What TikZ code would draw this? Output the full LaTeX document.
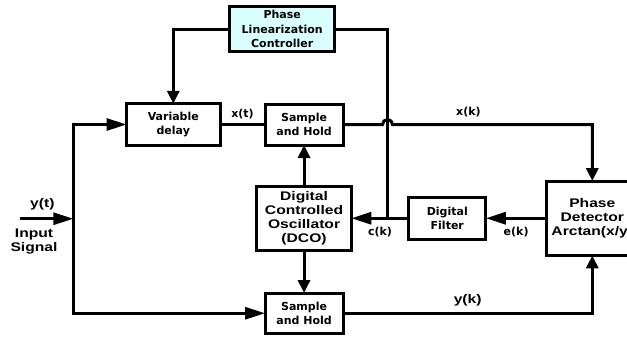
\documentclass[tikz,border=0pt]{standalone}
\usepackage{fontspec}
\newfontfamily\vfont{DejaVu Sans}
\newfontfamily\afont[FakeStretch=1.25]{Liberation Sans}
\usetikzlibrary{positioning, calc, arrows.meta}
\definecolor{ctrlcyan}{RGB}{218,255,255}
\tikzstyle{Block} = [draw, line width=3pt, align=center, inner sep=0pt, outer sep=0pt]
\tikzstyle{Line} = [line width=3pt]
\tikzstyle{Arrow} = [Line, -{Triangle[length=20pt,width=12pt]}]
\tikzstyle{VArrow} = [Line, -{Triangle[length=13pt,width=12pt]}]
\tikzstyle{VText} = [font=\vfont\bfseries\fontsize{11}{14.5}\selectfont]
\tikzstyle{AText} = [font=\afont\bfseries\fontsize{12.5}{14.3}\selectfont]

\begin{document}
\begin{tikzpicture}
    \useasboundingbox (0,0) rectangle (627pt,-338pt);

    \node [Block, VText, minimum width=93.5pt, minimum height=41.5pt] (delay) at (173.3pt,-124.5pt) {Variable\\delay};
    \node [Block, VText, minimum width=78pt, minimum height=41pt, right=45pt of delay] (sh1) {Sample\\and Hold};
    \node [Block, VText, fill=ctrlcyan, minimum width=104.5pt, minimum height=44.8pt] (plc) at (282.2pt,-29pt) {Phase\\Linearization\\Controller};
    \node [Block, AText, minimum width=94.5pt, minimum height=64.5pt, below=41pt of sh1] (dco) {Digital\\Controlled\\Oscillator\\(DCO)};
    \node [Block, VText, minimum width=78pt, minimum height=40.5pt, below=42.5pt of dco] (sh2) {Sample\\and Hold};
    \node [Block, VText, minimum width=77pt, minimum height=41.7pt, right=57.5pt of dco] (filter) {Digital\\Filter};
    \node [Block, AText, minimum width=91.6pt, minimum height=74.4pt, right=60.7pt of filter] (pd) {Phase\\Detector\\Arctan(x/y)};

    \coordinate (in) at (20pt,-218.75pt);
    \coordinate (split) at (73.3pt,-218.75pt);
    \coordinate (tap) at ($(dco.east)!0.63!(filter.west)$);

    % input and its two branches
    \draw[Arrow] (in) -- node[AText, pos=0.42, above=3.5pt] (yt) {y(t)} (split);
    \node [AText, align=center] (insig) at ($(in)+(14pt,-22.5pt)$) {Input\\Signal};
    \draw[Arrow] (split) |- (delay);
    \draw[Arrow] (split) |- (sh2);

    % controller loop
    \draw[VArrow] (plc.west) -| (delay.north);
    \draw[Line] (plc.east) -| (tap);

    \draw[Line] (delay) -- node[VText, above=1pt] (xt) {x(t)} (sh1);
    \draw[VArrow] (sh1.east) -- ($(tap |- sh1.east)+(-5pt,0)$)
        arc[start angle=180, end angle=0, radius=5pt]
        -- node[VText, pos=0.38, above=2.5pt] (xk) {x(k)} (pd.north |- sh1.east) -- (pd.north);
    \draw[VArrow] (dco) -- (sh1);
    \draw[VArrow] (dco) -- (sh2);
    \draw[Arrow] (filter) -- node[VText, below=4pt] (ck) {c(k)} (dco);
    \draw[Arrow] (pd) -- node[VText, below=4pt] (ek) {e(k)} (filter);
    \draw[VArrow] (sh2.east) -| node[AText, pos=0.25, above=2pt] (yk) {y(k)} (pd.south);
\end{tikzpicture}
\end{document}
